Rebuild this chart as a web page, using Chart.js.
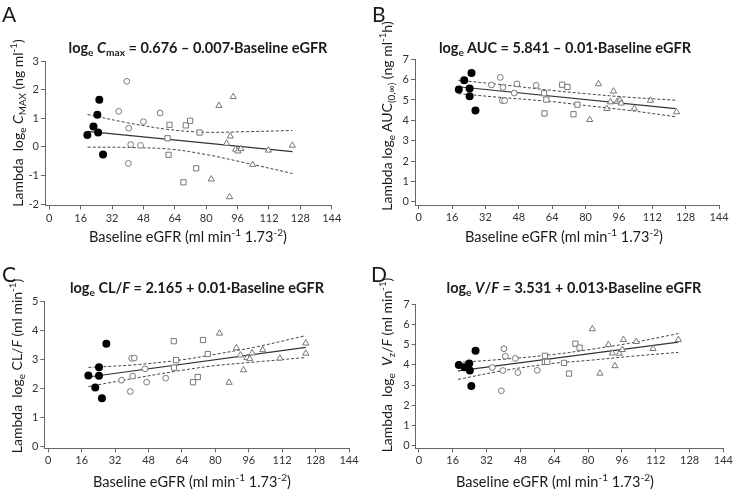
<!DOCTYPE html>
<html>
<head>
<meta charset="utf-8">
<script src="https://cdn.jsdelivr.net/npm/chart.js@4.4.0/dist/chart.umd.min.js"></script>
<style>
body { margin: 0; background: #fff; width: 735px; height: 493px; overflow: hidden; position: relative; font-family: Lato, sans-serif; color: #1a1a1a; }
canvas { position: absolute; }
.txt { position: absolute; white-space: nowrap; transform: translate(-50%, -50%); z-index: 2; }
.letter { position: absolute; font-size: 21px; line-height: 1; z-index: 2; }
.title { font-weight: bold; font-size: 14.5px; }
.xt { font-size: 14.5px; }
.yt { font-size: 14px; transform: translate(-50%, -50%) rotate(-90deg); }
sup, sub { font-size: 70%; line-height: 0; }
</style>
</head>
<body>
<canvas id="chartA" width="367" height="245" style="left:0;top:0"></canvas>
<canvas id="chartB" width="368" height="245" style="left:367px;top:0"></canvas>
<canvas id="chartC" width="367" height="248" style="left:0;top:245px"></canvas>
<canvas id="chartD" width="368" height="248" style="left:367px;top:245px"></canvas>

<div class="letter" style="left:2px;top:3px">A</div>
<div class="letter" style="left:372px;top:3px">B</div>
<div class="letter" style="left:2px;top:263px">C</div>
<div class="letter" style="left:371px;top:263px">D</div>

<div class="txt title" style="left:198px;top:47px">log<sub>e</sub> <i>C</i><sub>max</sub> = 0.676 &ndash; 0.007&middot;Baseline eGFR</div>
<div class="txt title" style="left:565px;top:47px">log<sub>e</sub> AUC = 5.841 &ndash; 0.01&middot;Baseline eGFR</div>
<div class="txt title" style="left:197px;top:287px">log<sub>e</sub> CL/<i>F</i> = 2.165 + 0.01&middot;Baseline eGFR</div>
<div class="txt title" style="left:574px;top:287px">log<sub>e</sub> <i>V</i>/<i>F</i> = 3.531 + 0.013&middot;Baseline eGFR</div>

<div class="txt yt" style="left:17px;top:123px">Lambda&nbsp; log<sub>e</sub> <i>C</i><sub>MAX</sub> (ng ml<sup>-1</sup>)</div>
<div class="txt yt" style="left:386px;top:116px">Lambda log<sub>e</sub> AUC<sub>(0,&infin;)</sub> (ng ml<sup>-1</sup>h)</div>
<div class="txt yt" style="left:16px;top:366px">Lambda&nbsp; log<sub>e</sub> CL/<i>F</i> (ml min<sup>-1</sup>)</div>
<div class="txt yt" style="left:386px;top:365px">Lambda&nbsp; log<sub>e</sub>&nbsp; <i>V</i><sub>z</sub>/<i>F</i> (ml min<sup>-1</sup>)</div>

<div class="txt xt" style="left:188px;top:236px">Baseline eGFR (ml min<sup>-1</sup> 1.73<sup>-2</sup>)</div>
<div class="txt xt" style="left:564px;top:236px">Baseline eGFR (ml min<sup>-1</sup> 1.73<sup>-2</sup>)</div>
<div class="txt xt" style="left:192px;top:481px">Baseline eGFR (ml min<sup>-1</sup> 1.73<sup>-2</sup>)</div>
<div class="txt xt" style="left:555px;top:481px">Baseline eGFR (ml min<sup>-1</sup> 1.73<sup>-2</sup>)</div>

<script>
// shared axis ticks
const egfrTicks = [0, 16, 32, 48, 64, 80, 96, 112, 128, 144];
const cmaxTicks = [-2, -1, 0, 1, 2, 3];
const aucTicks = [0, 1, 2, 3, 4, 5, 6, 7];
const clTicks = [0, 1, 2, 3, 4, 5];
const vzTicks = [0, 1, 2, 3, 4, 5, 6, 7];

// A: log Cmax
const cmaxSevereX = [19.4, 22.5, 24.5, 24.9, 25.5, 27.4];
const cmaxSevereY = [0.41, 0.71, 1.12, 0.50, 1.65, -0.27];
const cmaxModerateX = [39.5, 35.4, 40.5, 41.5, 40.3, 48.0, 46.5, 56.5];
const cmaxModerateY = [2.29, 1.24, 0.65, 0.08, -0.58, 0.88, 0.05, 1.18];
const cmaxMildX = [61.3, 60.3, 60.8, 69.6, 71.8, 76.6, 74.9, 68.4];
const cmaxMildY = [0.77, 0.30, -0.28, 0.75, 0.91, 0.50, -0.75, -1.24];
const cmaxNormalX = [86.5, 93.8, 92.3, 90.4, 95.0, 96.2, 97.7, 82.6, 91.9, 103.7, 111.7, 123.9];
const cmaxNormalY = [1.44, 1.75, 0.37, 0.12, -0.09, -0.15, -0.07, -1.13, -1.75, -0.62, -0.12, 0.05];
const cmaxFitX = [19.5, 124];
const cmaxFitY = [0.54, -0.17];
const cmaxBandX = [19.5, 40, 61.5, 80, 100, 124];
const cmaxUpper = [1.13, 0.84, 0.60, 0.51, 0.53, 0.57];
const cmaxLower = [-0.01, -0.02, -0.08, -0.27, -0.56, -0.93];

// B: log AUC
const aucSevereX = [19.2, 21.8, 24.4, 24.4, 25.3, 27.2];
const aucSevereY = [5.51, 5.97, 5.56, 5.18, 6.33, 4.48];
const aucModerateX = [39.1, 34.9, 40.4, 47.1, 45.8, 40.1, 41.2, 56.3];
const aucModerateY = [6.11, 5.74, 5.62, 5.79, 5.34, 4.97, 4.97, 5.72];
const aucMildX = [68.8, 71.3, 60.1, 61.2, 60.3, 76.1, 74.2];
const aucMildY = [5.75, 5.64, 5.33, 5.02, 4.34, 4.77, 4.30];
const aucNormalX = [86.2, 93.4, 92.0, 95.2, 96.5, 97.1, 90.2, 82.0, 103.4, 111.1, 123.6];
const aucNormalY = [5.79, 5.43, 4.90, 4.92, 5.00, 4.84, 4.57, 4.03, 4.59, 4.98, 4.41];
const aucFitX = [19, 123.2];
const aucFitY = [5.65, 4.58];
const aucBandX = [19, 40, 64, 80, 100, 123.2];
const aucUpper = [5.97, 5.75, 5.47, 5.31, 5.14, 4.99];
const aucLower = [5.31, 5.12, 4.92, 4.73, 4.50, 4.18];

// C: log CL/F
const clSevereX = [19.2, 22.5, 24.3, 24.3, 25.7, 27.8];
const clSevereY = [2.44, 2.03, 2.72, 2.43, 1.66, 3.53];
const clModerateX = [35.1, 39.9, 41.2, 40.4, 39.3, 46.3, 47.1, 56.2];
const clModerateY = [2.28, 3.03, 3.04, 2.42, 1.89, 2.67, 2.21, 2.35];
const clMildX = [60.1, 61.2, 60.2, 74.1, 76.4, 71.6, 69.3];
const clMildY = [3.62, 2.97, 2.71, 3.66, 3.18, 2.39, 2.21];
const clNormalX = [82.0, 90.1, 92.0, 93.5, 86.6, 95.2, 96.5, 97.6, 102.7, 110.9, 123.3, 123.3];
const clNormalY = [3.89, 3.39, 3.14, 2.63, 2.20, 3.05, 3.01, 3.21, 3.32, 3.03, 3.55, 3.20];
const clFitX = [19.2, 123.3];
const clFitY = [2.39, 3.41];
const clBandX = [19.2, 40, 64, 80, 100, 123.3];
const clUpper = [2.72, 2.80, 2.98, 3.17, 3.43, 3.81];
const clLower = [2.06, 2.33, 2.62, 2.78, 2.91, 3.06];

// D: log Vz/F
const vzSevereX = [18.9, 21.6, 23.8, 24.1, 24.8, 26.8];
const vzSevereY = [4.00, 3.88, 4.07, 3.72, 2.95, 4.70];
const vzModerateX = [40.2, 40.9, 34.7, 39.7, 45.6, 46.8, 56.0, 39.0];
const vzModerateY = [4.80, 4.43, 3.87, 3.72, 4.32, 3.62, 3.73, 2.72];
const vzMildX = [59.6, 59.6, 60.7, 68.6, 71.0, 74.0, 76.0];
const vzMildY = [4.45, 4.15, 4.15, 4.10, 3.57, 5.05, 4.85];
const vzNormalX = [82.0, 89.6, 91.5, 92.7, 85.6, 94.8, 96.7, 96.2, 102.8, 110.7, 122.7];
const vzNormalY = [5.78, 5.00, 4.58, 3.95, 3.58, 4.57, 5.25, 4.75, 5.15, 4.80, 5.25];
const vzFitX = [18.5, 122.7];
const vzFitY = [3.70, 5.13];
const vzBandX = [18.5, 40, 64, 80, 100, 122.7];
const vzUpper = [4.12, 4.28, 4.52, 4.75, 5.08, 5.55];
const vzLower = [3.28, 3.72, 4.08, 4.22, 4.42, 4.62];

function pts(xs, ys) {
    return xs.map((x, i) => ({ x: x, y: ys[i] }));
}

function makePanel(id, p) {
    const canvas = document.getElementById(id);
    const W = canvas.width, H = canvas.height;
    const xAxisH = 22;
    const openStyle = { backgroundColor: '#fff', borderColor: '#777', borderWidth: 1 };

    new Chart(canvas.getContext('2d'), {
        type: 'scatter',
        data: {
            datasets: [
                { data: pts(p.severe[0], p.severe[1]), pointStyle: 'circle', pointRadius: 4, backgroundColor: '#000', borderColor: '#000', borderWidth: 0 },
                Object.assign({ data: pts(p.moderate[0], p.moderate[1]), pointStyle: 'circle', pointRadius: 2.9 }, openStyle),
                Object.assign({ data: pts(p.mild[0], p.mild[1]), pointStyle: 'rect', pointRadius: 3.7 }, openStyle),
                Object.assign({ data: pts(p.normal[0], p.normal[1]), pointStyle: 'triangle', pointRadius: 3.6 }, openStyle),
                { type: 'line', data: pts(p.fit[0], p.fit[1]), borderColor: '#333', borderWidth: 1.2, pointRadius: 0, fill: false },
                { type: 'line', data: pts(p.band[0], p.upper), borderColor: '#444', borderWidth: 1, borderDash: [3, 2], pointRadius: 0, fill: false, tension: 0.35 },
                { type: 'line', data: pts(p.band[0], p.lower), borderColor: '#444', borderWidth: 1, borderDash: [3, 2], pointRadius: 0, fill: false, tension: 0.35 }
            ]
        },
        options: {
            responsive: false,
            animation: false,
            layout: {
                padding: { left: 0, top: p.area.top, right: W - p.area.right, bottom: H - p.area.bottom - xAxisH }
            },
            plugins: { legend: { display: false }, tooltip: { enabled: false } },
            scales: {
                x: {
                    type: 'linear',
                    min: p.xMin,
                    max: 144,
                    afterBuildTicks: function(axis) { axis.ticks = egfrTicks.map(v => ({ value: v })); },
                    afterFit: function(scale) { scale.height = xAxisH; },
                    grid: { drawOnChartArea: false, drawTicks: true, tickLength: 4, color: '#666' },
                    border: { color: '#666', width: 1 },
                    ticks: { font: { family: 'Lato', size: 11 }, color: '#333', padding: 2, maxRotation: 0, autoSkip: false }
                },
                y: {
                    type: 'linear',
                    min: p.yMin,
                    max: p.yMax,
                    afterBuildTicks: function(axis) { axis.ticks = p.yTicks.map(v => ({ value: v })); },
                    afterFit: function(scale) { scale.width = p.area.left; },
                    grid: { drawOnChartArea: false, drawTicks: true, tickLength: 4, color: '#666' },
                    border: { color: '#666', width: 1 },
                    ticks: { font: { family: 'Lato', size: 11 }, color: '#333', padding: 2, autoSkip: false }
                }
            }
        }
    });
}

makePanel('chartA', {
    severe: [cmaxSevereX, cmaxSevereY], moderate: [cmaxModerateX, cmaxModerateY],
    mild: [cmaxMildX, cmaxMildY], normal: [cmaxNormalX, cmaxNormalY],
    fit: [cmaxFitX, cmaxFitY], band: [cmaxBandX], upper: cmaxUpper, lower: cmaxLower,
    yTicks: cmaxTicks, yMin: -2.05, yMax: 3, xMin: -2.2,
    area: { left: 45, top: 61, right: 331.7, bottom: 205.5 }
});

makePanel('chartB', {
    severe: [aucSevereX, aucSevereY], moderate: [aucModerateX, aucModerateY],
    mild: [aucMildX, aucMildY], normal: [aucNormalX, aucNormalY],
    fit: [aucFitX, aucFitY], band: [aucBandX], upper: aucUpper, lower: aucLower,
    yTicks: aucTicks, yMin: -0.16, yMax: 7, xMin: -1.8,
    area: { left: 48, top: 59.3, right: 352, bottom: 205 }
});

makePanel('chartC', {
    severe: [clSevereX, clSevereY], moderate: [clModerateX, clModerateY],
    mild: [clMildX, clMildY], normal: [clNormalX, clNormalY],
    fit: [clFitX, clFitY], band: [clBandX], upper: clUpper, lower: clLower,
    yTicks: clTicks, yMin: -0.06, yMax: 5, xMin: -1.9,
    area: { left: 44.3, top: 56, right: 349, bottom: 203.3 }
});

makePanel('chartD', {
    severe: [vzSevereX, vzSevereY], moderate: [vzModerateX, vzModerateY],
    mild: [vzMildX, vzMildY], normal: [vzNormalX, vzNormalY],
    fit: [vzFitX, vzFitY], band: [vzBandX], upper: vzUpper, lower: vzLower,
    yTicks: vzTicks, yMin: -0.13, yMax: 7, xMin: -1.5,
    area: { left: 48.7, top: 59.3, right: 356.7, bottom: 203.3 }
});
</script>
</body>
</html>
